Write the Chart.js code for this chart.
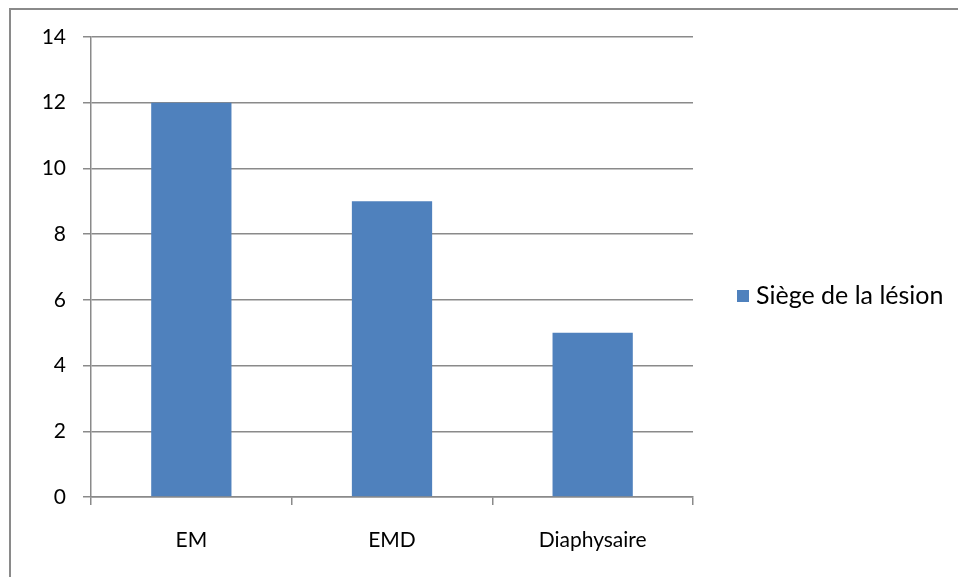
<!DOCTYPE html>
<html>
<head>
<meta charset="utf-8">
<script src="https://cdn.jsdelivr.net/npm/chart.js@4/dist/chart.umd.min.js"></script>
<style>
  html, body { margin: 0; padding: 0; background: #fff; overflow: hidden; }
  #wrap { position: relative; width: 958px; height: 577px; }
  #frame { position: absolute; left: 9px; top: 8px; width: 1000px; height: 700px;
           border-left: 2px solid #8a8a8a; border-top: 2px solid #8a8a8a; box-sizing: border-box; }
  canvas { position: absolute; left: 0; top: 0; }
</style>
</head>
<body>
<div id="wrap">
  <div id="frame"></div>
  <canvas id="c" width="958" height="577"></canvas>
</div>
<script>
const categories = ['EM', 'EMD', 'Diaphysaire'];
const seriesName = 'Siège de la lésion';
const seriesValues = [12, 9, 5];
const yTicks = [0, 2, 4, 6, 8, 10, 12, 14];

const axisColor = '#8a8a8a';
const barColor = '#4f81bd';
const fontFamily = 'Lato, "Open Sans", sans-serif';

// Legend drawn to the right of the plot: one square swatch and the series name
const sideLegend = {
  id: 'sideLegend',
  afterDraw(chart) {
    const ctx = chart.ctx;
    const ds = chart.data.datasets[0];
    const area = chart.chartArea;
    const cy = (area.top + area.bottom) / 2 + 29;
    ctx.save();
    ctx.fillStyle = ds.backgroundColor;
    ctx.fillRect(737, cy - 6, 12, 12);
    ctx.fillStyle = '#000';
    ctx.font = '25px ' + fontFamily;
    ctx.textBaseline = 'middle';
    ctx.textAlign = 'left';
    ctx.fillText(ds.label, 756, cy);
    ctx.restore();
  }
};

new Chart(document.getElementById('c'), {
  type: 'bar',
  data: {
    labels: categories,
    datasets: [{
      label: seriesName,
      data: seriesValues,
      backgroundColor: barColor,
      borderWidth: 0,
      barPercentage: 0.4,
      categoryPercentage: 1.0
    }]
  },
  options: {
    responsive: false,
    animation: false,
    layout: { padding: { left: 0, top: 37, right: 265, bottom: 0 } },
    plugins: { legend: { display: false }, tooltip: { enabled: false } },
    scales: {
      x: {
        offset: true,
        grid: { display: true, drawOnChartArea: false, drawTicks: true, tickLength: 8, color: axisColor, lineWidth: 1.5, offset: true },
        border: { display: true, color: axisColor, width: 1.5 },
        ticks: { color: '#000', font: { family: fontFamily, size: 21 }, padding: 23 },
        afterFit(scale) { scale.height = 80; }
      },
      y: {
        min: 0, max: 14,
        afterBuildTicks(scale) { scale.ticks = yTicks.map(v => ({ value: v })); },
        grid: { color: axisColor, lineWidth: 1.5, tickLength: 8 },
        border: { display: true, color: axisColor, width: 1.5 },
        ticks: { color: '#000', font: { family: fontFamily, size: 21 }, padding: 17 },
        afterFit(scale) { scale.width = 91; }
      }
    }
  },
  plugins: [sideLegend]
});
</script>
</body>
</html>
